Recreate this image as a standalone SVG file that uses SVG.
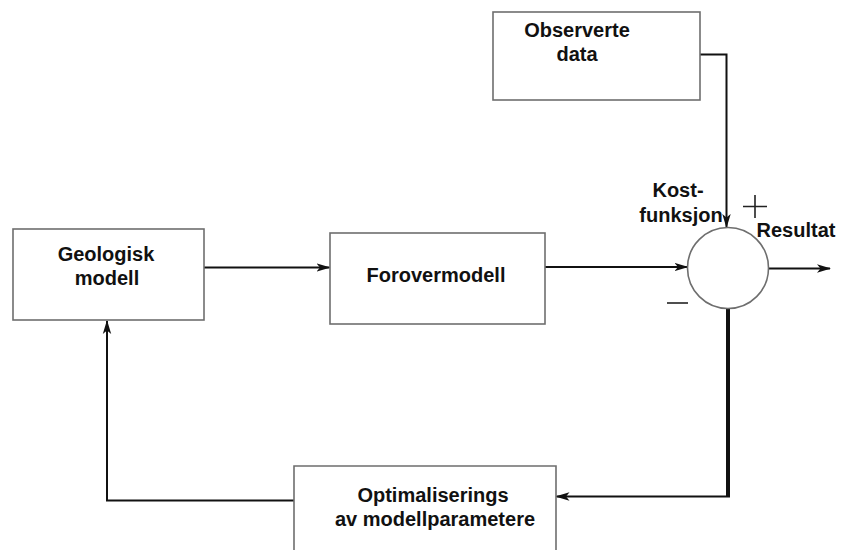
<svg xmlns="http://www.w3.org/2000/svg" width="842" height="550" viewBox="0 0 842 550">
  <style>
    .box { fill: #ffffff; stroke: #6e6e6e; stroke-width: 1.6; }
    .lbl { font-family: "Liberation Sans", Arial, Helvetica, sans-serif; font-weight: bold; font-size: 20px; fill: #111; text-anchor: middle; }
    .wire { fill: none; stroke: #111; stroke-width: 2; }
    .sign { fill: none; stroke: #222; stroke-width: 1.6; }
  </style>
  <defs>
    <marker id="arrow" viewBox="0 0 14 10" refX="13" refY="5" markerWidth="14" markerHeight="10" markerUnits="userSpaceOnUse" orient="auto">
      <path d="M0,0.8 L14,5 L0,9.2 L3.5,5 Z" fill="#111"/>
    </marker>
  </defs>

  <rect width="842" height="550" fill="#ffffff"/>

  <!-- connectors -->
  <g id="connectors">
    <path class="wire" d="M700,54.5 H726.5 V227" marker-end="url(#arrow)"/>
    <path class="wire" d="M204,267.5 H329.5" marker-end="url(#arrow)"/>
    <path class="wire" d="M545,267 H687.5" marker-end="url(#arrow)"/>
    <path class="wire" d="M768.5,268.5 H830" marker-end="url(#arrow)"/>
    <path class="wire" d="M728,308 V496" style="stroke-width:4"/>
    <path class="wire" d="M730,496.5 H556.5" marker-end="url(#arrow)"/>
    <path class="wire" d="M294,500.5 H107 V321" marker-end="url(#arrow)"/>
  </g>

  <g id="observerte-data">
    <rect class="box" x="493" y="12" width="207" height="88"/>
    <text class="lbl" x="577" y="37">Observerte</text>
    <text class="lbl" x="577" y="61">data</text>
  </g>

  <g id="geologisk-modell">
    <rect class="box" x="13" y="229" width="191" height="91"/>
    <text class="lbl" x="106" y="261">Geologisk</text>
    <text class="lbl" x="107" y="285">modell</text>
  </g>

  <g id="forovermodell">
    <rect class="box" x="330" y="233" width="215" height="91"/>
    <text class="lbl" x="436" y="282">Forovermodell</text>
  </g>

  <g id="kostfunksjon">
    <circle cx="728" cy="268" r="40.5" fill="#ffffff" stroke="#6e6e6e" stroke-width="1.6"/>
    <text class="lbl" x="678" y="197">Kost-</text>
    <text class="lbl" x="681" y="222">funksjon</text>
    <path class="sign" d="M743,206.5 H767 M755,195 V218"/>
    <text class="lbl" x="796" y="237">Resultat</text>
    <path class="sign" d="M667,303 H688"/>
  </g>

  <g id="optimalisering">
    <path class="box" d="M294,552 V466 H556 V552"/>
    <text class="lbl" x="433" y="502">Optimaliserings</text>
    <text class="lbl" x="435" y="526">av modellparametere</text>
  </g>
</svg>
